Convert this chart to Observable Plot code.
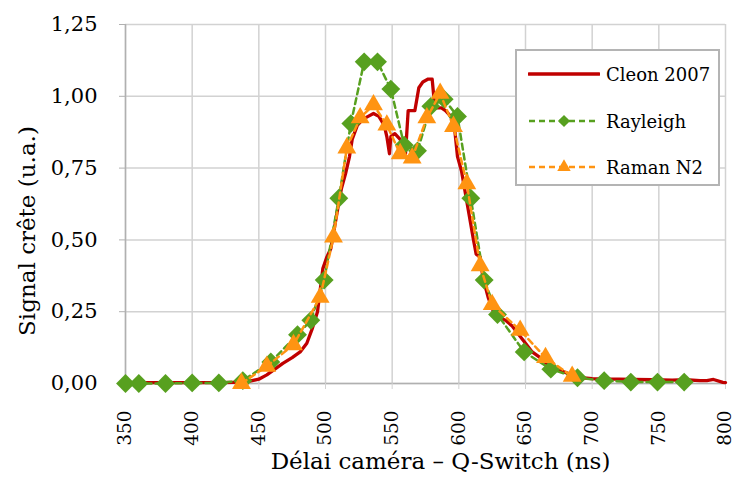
<!DOCTYPE html>
<html>
<head>
<meta charset="utf-8">
<script src="https://cdn.jsdelivr.net/npm/d3@7"></script>
<script src="https://cdn.jsdelivr.net/npm/@observablehq/plot@0.6"></script>
<style>
  html, body { margin: 0; padding: 0; background: #fff; }
  #wrap { position: relative; width: 736px; height: 481px; font-family: "DejaVu Serif", serif; }
  #legend { position: absolute; left: 515px; top: 49px; width: 205px; height: 137px; box-sizing: border-box;
            border: 2px solid #b4b4b4; background: #fff; }
  .row { position: absolute; left: 11px; height: 24px; display: flex; align-items: center; }
  .row span { font-size: 18px; color: #000; margin-left: 6px; white-space: nowrap; }
</style>
</head>
<body>
<div id="wrap"><div id="chart"></div><div id="legend"></div></div>
<script>
// ---- data ----
const xTicks = [350, 400, 450, 500, 550, 600, 650, 700, 750, 800];
const yTicks = [0, 0.25, 0.5, 0.75, 1.0, 1.25];

const seriesNames = ["Cleon 2007", "Rayleigh", "Raman N2"];

const cleonX = [350, 360, 380, 400, 420, 440, 450, 456, 462, 468, 475, 481, 486, 490, 494, 498, 501, 504, 507, 510, 512, 515, 518, 520, 524, 528, 532, 536, 540, 544, 546, 548, 549, 552, 556, 558, 560, 562, 567, 570, 573, 577, 580, 582, 587, 590, 594, 597, 599, 602, 605, 608, 611, 613, 616, 618, 622, 626, 630, 635, 640, 645, 650, 655, 661, 668, 676, 685, 692, 700, 710, 720, 731, 745, 760, 770, 781, 786, 791, 798, 800];
const cleonY = [0.003, 0.003, 0.003, 0.003, 0.003, 0.005, 0.015, 0.03, 0.05, 0.07, 0.09, 0.11, 0.14, 0.19, 0.25, 0.40, 0.44, 0.47, 0.55, 0.63, 0.68, 0.73, 0.79, 0.85, 0.90, 0.92, 0.93, 0.94, 0.93, 0.90, 0.86, 0.80, 0.86, 0.87, 0.85, 0.82, 0.80, 0.95, 0.95, 1.03, 1.05, 1.06, 1.06, 0.96, 0.96, 0.95, 0.93, 0.88, 0.79, 0.74, 0.66, 0.58, 0.50, 0.45, 0.44, 0.37, 0.30, 0.25, 0.23, 0.22, 0.20, 0.17, 0.14, 0.11, 0.09, 0.06, 0.045, 0.03, 0.02, 0.017, 0.015, 0.015, 0.014, 0.013, 0.012, 0.013, 0.01, 0.01, 0.014, 0.004, 0.003];

const rayleighX = [350, 360, 380, 400, 420, 438, 459, 479, 489, 499, 510, 519, 529, 539, 549, 559, 569, 579, 589, 599, 609, 619, 629, 649, 669, 689, 709, 729, 749, 769];
const rayleighY = [0, 0, 0, 0.002, 0.002, 0.01, 0.075, 0.17, 0.22, 0.36, 0.645, 0.905, 1.12, 1.12, 1.025, 0.83, 0.81, 0.965, 0.99, 0.93, 0.645, 0.36, 0.24, 0.11, 0.05, 0.02, 0.01, 0.005, 0.005, 0.005];

const ramanX = [437, 456, 476, 496, 506, 516, 526, 536, 546, 556, 565, 576, 586, 596, 606, 616, 625, 646, 665, 685];
const ramanY = [0.0, 0.06, 0.135, 0.30, 0.51, 0.82, 0.925, 0.97, 0.90, 0.80, 0.785, 0.925, 1.01, 0.895, 0.695, 0.41, 0.275, 0.185, 0.09, 0.025];

const xTitle = "Délai caméra – Q-Switch (ns)";
const yTitle = "Signal crête (u.a.)";

// ---- build ----
const RED = "#c00000", GREEN = "#57a01f", ORANGE = "#ff9412", GRID = "#d2d2d2", AXIS = "#b0b0b0";
const cleon = cleonX.map((x, i) => ({x, y: cleonY[i]}));
const rayleigh = rayleighX.map((x, i) => ({x, y: rayleighY[i]}));
const raman = ramanX.map((x, i) => ({x, y: ramanY[i]}));
const fmt = d => d3.format(".2f")(d).replace(".", ",");

const chart = Plot.plot({
  width: 736, height: 481,
  marginLeft: 125, marginRight: 11, marginTop: 24, marginBottom: 98,
  style: {fontFamily: "DejaVu Serif", background: "#fff"},
  x: {domain: [350, 800]},
  y: {domain: [0, 1.25]},
  marks: [
    Plot.gridX(xTicks, {stroke: GRID, strokeOpacity: 1, strokeWidth: 1.5}),
    Plot.gridY(yTicks, {stroke: GRID, strokeOpacity: 1, strokeWidth: 1.5}),
    Plot.ruleX([350], {stroke: AXIS, strokeWidth: 1.5}),
    Plot.ruleY([0], {stroke: AXIS, strokeWidth: 1.5}),
    Plot.axisY(yTicks, {tickFormat: fmt, tickSize: 6, tickPadding: 22, fontSize: 21, stroke: AXIS, fill: "#000", label: null}),
    Plot.axisX(xTicks, {tickRotate: -90, tickSize: 6, tickPadding: 21, fontSize: 18.5, stroke: GRID, fill: "#000", label: null}),
    Plot.text([xTitle], {frameAnchor: "bottom", lineAnchor: "middle", textAnchor: "middle", dy: 78, dx: 15, fontSize: 23, fill: "#000"}),
    Plot.text([yTitle], {frameAnchor: "left", lineAnchor: "middle", textAnchor: "middle", rotate: -90, dx: -98, dy: 27, fontSize: 23, fill: "#000"}),
    Plot.line(cleon, {x: "x", y: "y", stroke: RED, strokeWidth: 3.3}),
    Plot.line(rayleigh, {x: "x", y: "y", stroke: GREEN, strokeWidth: 2.5, strokeDasharray: "6,4"}),
    Plot.dot(rayleigh, {x: "x", y: "y", symbol: "diamond2", r: 8.5, fill: GREEN, stroke: "none"}),
    Plot.line(raman, {x: "x", y: "y", stroke: ORANGE, strokeWidth: 2.5, strokeDasharray: "6,4"}),
    Plot.dot(raman, {x: "x", y: "y", symbol: "triangle", r: 7, fill: ORANGE, stroke: "none"})
  ]
});
document.getElementById("chart").appendChild(chart);

// ---- legend ----
const legend = d3.select("#legend");
const styles = [
  {stroke: RED, width: 3.3, dash: null, sym: null},
  {stroke: GREEN, width: 2.5, dash: "6,4", sym: d3.symbol(d3.symbolDiamond2, Math.PI * 5.5 * 5.5)},
  {stroke: ORANGE, width: 2.5, dash: "6,4", sym: d3.symbol(d3.symbolTriangle, Math.PI * 5 * 5)}
];
const rowTops = [11, 58, 104];
seriesNames.forEach((name, i) => {
  const row = legend.append("div").attr("class", "row").style("top", rowTops[i] + "px");
  const s = row.append("svg").attr("width", 72).attr("height", 24);
  s.append("line").attr("x1", 1).attr("x2", 71).attr("y1", 12).attr("y2", 12)
    .attr("stroke", styles[i].stroke).attr("stroke-width", styles[i].width)
    .attr("stroke-dasharray", styles[i].dash).attr("stroke-linecap", styles[i].dash ? null : "round");
  if (styles[i].sym) s.append("path").attr("d", styles[i].sym()).attr("transform", "translate(36,12)").attr("fill", styles[i].stroke);
  row.append("span").text(name);
});
</script>
</body>
</html>
